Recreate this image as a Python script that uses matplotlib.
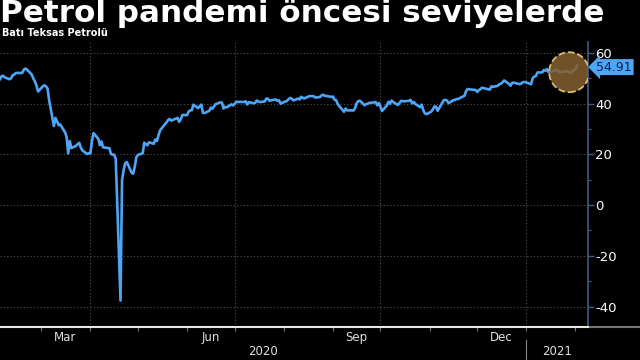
"""WTI crude price chart: back at pre-pandemic levels."""

import matplotlib
matplotlib.use("Agg")
import matplotlib.pyplot as plt
import matplotlib.transforms as mtransforms
from matplotlib.lines import Line2D
import pandas as pd

plt.rcParams["axes.unicode_minus"] = False

TITLE = "Petrol pandemi öncesi seviyelerde"
SUBTITLE = "Batı Teksas Petrolü"

dates = [
    "2020-02-04", "2020-02-05", "2020-02-06", "2020-02-07", "2020-02-10", "2020-02-11",
    "2020-02-12", "2020-02-13", "2020-02-14", "2020-02-18", "2020-02-19", "2020-02-20",
    "2020-02-21", "2020-02-24", "2020-02-25", "2020-02-26", "2020-02-27", "2020-02-28",
    "2020-03-02", "2020-03-03", "2020-03-04", "2020-03-05", "2020-03-06", "2020-03-09",
    "2020-03-10", "2020-03-11", "2020-03-12", "2020-03-13", "2020-03-16", "2020-03-17",
    "2020-03-18", "2020-03-19", "2020-03-20", "2020-03-23", "2020-03-24", "2020-03-25",
    "2020-03-26", "2020-03-27", "2020-03-30", "2020-03-31", "2020-04-01", "2020-04-02",
    "2020-04-03", "2020-04-06", "2020-04-07", "2020-04-08", "2020-04-09", "2020-04-13",
    "2020-04-14", "2020-04-15", "2020-04-16", "2020-04-17", "2020-04-20", "2020-04-21",
    "2020-04-22", "2020-04-23", "2020-04-24", "2020-04-27", "2020-04-28", "2020-04-29",
    "2020-04-30", "2020-05-01", "2020-05-04", "2020-05-05", "2020-05-06", "2020-05-07",
    "2020-05-08", "2020-05-11", "2020-05-12", "2020-05-13", "2020-05-14", "2020-05-15",
    "2020-05-18", "2020-05-19", "2020-05-20", "2020-05-21", "2020-05-22", "2020-05-26",
    "2020-05-27", "2020-05-28", "2020-05-29", "2020-06-01", "2020-06-02", "2020-06-03",
    "2020-06-04", "2020-06-05", "2020-06-08", "2020-06-09", "2020-06-10", "2020-06-11",
    "2020-06-12", "2020-06-15", "2020-06-16", "2020-06-17", "2020-06-18", "2020-06-19",
    "2020-06-22", "2020-06-23", "2020-06-24", "2020-06-25", "2020-06-26", "2020-06-29",
    "2020-06-30", "2020-07-01", "2020-07-02", "2020-07-06", "2020-07-07", "2020-07-08",
    "2020-07-09", "2020-07-10", "2020-07-13", "2020-07-14", "2020-07-15", "2020-07-16",
    "2020-07-17", "2020-07-20", "2020-07-21", "2020-07-22", "2020-07-23", "2020-07-24",
    "2020-07-27", "2020-07-28", "2020-07-29", "2020-07-30", "2020-07-31", "2020-08-03",
    "2020-08-04", "2020-08-05", "2020-08-06", "2020-08-07", "2020-08-10", "2020-08-11",
    "2020-08-12", "2020-08-13", "2020-08-14", "2020-08-17", "2020-08-18", "2020-08-19",
    "2020-08-20", "2020-08-21", "2020-08-24", "2020-08-25", "2020-08-26", "2020-08-27",
    "2020-08-28", "2020-08-31", "2020-09-01", "2020-09-02", "2020-09-03", "2020-09-04",
    "2020-09-08", "2020-09-09", "2020-09-10", "2020-09-11", "2020-09-14", "2020-09-15",
    "2020-09-16", "2020-09-17", "2020-09-18", "2020-09-21", "2020-09-22", "2020-09-23",
    "2020-09-24", "2020-09-25", "2020-09-28", "2020-09-29", "2020-09-30", "2020-10-01",
    "2020-10-02", "2020-10-05", "2020-10-06", "2020-10-07", "2020-10-08", "2020-10-09",
    "2020-10-12", "2020-10-13", "2020-10-14", "2020-10-15", "2020-10-16", "2020-10-19",
    "2020-10-20", "2020-10-21", "2020-10-22", "2020-10-23", "2020-10-26", "2020-10-27",
    "2020-10-28", "2020-10-29", "2020-10-30", "2020-11-02", "2020-11-03", "2020-11-04",
    "2020-11-05", "2020-11-06", "2020-11-09", "2020-11-10", "2020-11-11", "2020-11-12",
    "2020-11-13", "2020-11-16", "2020-11-17", "2020-11-18", "2020-11-19", "2020-11-20",
    "2020-11-23", "2020-11-24", "2020-11-25", "2020-11-27", "2020-11-30", "2020-12-01",
    "2020-12-02", "2020-12-03", "2020-12-04", "2020-12-07", "2020-12-08", "2020-12-09",
    "2020-12-10", "2020-12-11", "2020-12-14", "2020-12-15", "2020-12-16", "2020-12-17",
    "2020-12-18", "2020-12-21", "2020-12-22", "2020-12-23", "2020-12-24", "2020-12-28",
    "2020-12-29", "2020-12-30", "2020-12-31", "2021-01-04", "2021-01-05", "2021-01-06",
    "2021-01-07", "2021-01-08", "2021-01-11", "2021-01-12", "2021-01-13", "2021-01-14",
    "2021-01-15", "2021-01-19", "2021-01-20", "2021-01-21", "2021-01-22", "2021-01-25",
    "2021-01-26", "2021-01-27", "2021-01-28", "2021-01-29", "2021-02-01", "2021-02-02",
]

prices = [
    49.61, 50.75, 50.95, 50.32, 49.57, 49.94,
    51.17, 51.42, 52.05, 52.05, 53.29, 53.78,
    53.38, 51.43, 49.90, 48.73, 47.09, 44.76,
    46.75, 47.18, 46.78, 45.90, 41.28, 31.13,
    34.36, 32.98, 31.50, 31.73, 28.70, 26.95,
    20.37, 25.22, 22.43, 23.36, 24.01, 24.49,
    22.60, 21.51, 20.09, 20.48, 20.31, 25.32,
    28.34, 26.08, 23.63, 25.09, 22.76, 22.41,
    20.11, 19.87, 19.87, 18.27, -37.63, 10.01,
    13.78, 16.50, 16.94, 12.78, 12.34, 15.06,
    18.84, 19.78, 20.39, 24.56, 23.99, 23.55,
    24.74, 24.14, 25.78, 25.29, 27.56, 29.43,
    31.82, 32.50, 33.49, 33.92, 33.25, 34.35,
    32.81, 33.71, 35.49, 35.44, 36.81, 37.29,
    37.41, 39.55, 38.19, 38.94, 39.60, 36.34,
    36.26, 37.12, 38.38, 37.96, 38.84, 39.75,
    40.46, 40.37, 38.01, 38.72, 38.49, 39.70,
    39.27, 39.82, 40.65, 40.63, 40.62, 40.90,
    39.62, 40.55, 40.10, 40.29, 41.20, 40.75,
    40.59, 40.81, 41.96, 41.90, 41.07, 41.29,
    41.60, 41.04, 41.27, 39.92, 40.27, 41.01,
    41.70, 42.19, 41.95, 41.22, 41.94, 41.61,
    42.67, 42.24, 42.01, 42.89, 42.89, 42.93,
    42.82, 42.34, 42.62, 43.35, 43.39, 43.04,
    42.97, 42.61, 42.76, 41.51, 41.37, 39.77,
    36.76, 38.05, 37.30, 37.33, 37.26, 38.28,
    40.16, 40.97, 41.11, 39.31, 39.80, 39.93,
    40.31, 40.25, 40.60, 39.29, 40.22, 38.72,
    37.05, 39.22, 40.67, 39.95, 41.19, 40.60,
    39.43, 40.20, 41.04, 40.96, 40.88, 41.06,
    41.46, 40.03, 40.64, 39.85, 38.56, 39.57,
    37.39, 36.17, 35.79, 36.81, 37.66, 38.79,
    38.79, 37.14, 40.29, 41.36, 41.45, 41.12,
    40.13, 41.34, 41.43, 41.82, 41.74, 42.15,
    43.06, 44.91, 45.71, 45.53, 45.34, 44.55,
    45.28, 45.64, 46.26, 45.76, 45.60, 45.52,
    46.78, 46.57, 46.99, 47.62, 47.82, 48.36,
    49.10, 47.74, 47.02, 48.12, 48.23, 47.62,
    48.00, 48.40, 48.52, 47.62, 49.93, 50.63,
    50.83, 52.24, 52.25, 53.21, 52.91, 53.57,
    52.36, 52.98, 53.24, 53.13, 52.27, 52.77,
    52.61, 52.85, 52.34, 52.20, 53.55, 54.91,
]

y_ticks = [-40, -20, 0, 20, 40, 60]
month_labels = {3: "Mar", 6: "Jun", 9: "Sep", 12: "Dec"}
x_start, x_end = "2020-02-04", "2021-02-09"

LINE_BLUE = "#4ea5f5"
GRID = "#505050"
AXIS_BLUE = "#3b5c8c"

x = pd.to_datetime(dates)
x0, x1 = pd.Timestamp(x_start), pd.Timestamp(x_end)

fig = plt.figure(figsize=(6.4, 3.6), dpi=100, facecolor="black")
ax = fig.add_axes([0.0, 0.092, 0.919, 0.791], facecolor="black")

ax.plot(x, prices, color=LINE_BLUE, linewidth=1.9, solid_joinstyle="round", zorder=3)

# highlight around the latest prints
ax.scatter([x[-4]], [prices[-4]], s=830, facecolor="#86602f", alpha=0.85,
           edgecolor="#f3d58c", linewidths=1.3, linestyles="--", zorder=4)

ax.set_xlim(x0, x1)
ax.set_ylim(-48, 64.2)

# y axis on the right
ax.yaxis.tick_right()
ax.set_yticks(y_ticks)
ax.set_yticks(range(-40, 61, 10), minor=True)
ax.tick_params(axis="y", which="major", colors=AXIS_BLUE, length=4, width=1,
               labelcolor="white", labelsize=9.5, pad=1)
ax.tick_params(axis="y", which="minor", colors=AXIS_BLUE, length=2, width=0.8)
for side in ("top", "left"):
    ax.spines[side].set_visible(False)
ax.spines["right"].set_color(AXIS_BLUE)
ax.spines["right"].set_linewidth(1.2)
ax.spines["bottom"].set_color("#e8e8e8")
ax.spines["bottom"].set_linewidth(1.5)

# x axis: month ticks, quarter labels mid-month
month_starts = pd.date_range("2020-03-01", x1, freq="MS")
ax.set_xticks(month_starts)
ax.set_xticklabels([])
mid_months = [pd.Timestamp(2020, m, 16) for m in month_labels]
ax.set_xticks(mid_months, minor=True)
ax.set_xticklabels(list(month_labels.values()), minor=True)
ax.tick_params(axis="x", which="major", colors="#777777", length=3, width=0.8)
ax.tick_params(axis="x", which="minor", length=0, labelcolor="#e0e0e0",
               labelsize=8.5, pad=3)

# gridlines
for v in y_ticks:
    ax.axhline(v, color=GRID, linestyle=(0, (1, 2)), linewidth=0.8, zorder=1)
for q in pd.date_range("2020-04-01", x1, freq="QS"):
    ax.axvline(q, color=GRID, linestyle=(0, (1, 2)), linewidth=0.8, zorder=1)

# year labels
trans = mtransforms.blended_transform_factory(ax.transData, ax.transAxes)
year_break = pd.Timestamp("2021-01-01")
for lo, hi, label in [(x0, year_break, "2020"), (year_break, x1, "2021")]:
    ax.text(lo + (hi - lo) / 2, -0.088, label, transform=trans, color="#e0e0e0",
            fontsize=8.5, ha="center", va="center")
ax.plot([year_break, year_break], [-0.045, -0.12], transform=trans, color="#888888",
        linewidth=0.8, clip_on=False)
fig.add_artist(Line2D([0.922, 1.0], [0.092, 0.092], color="#777777", linewidth=1.5))

# last value tag
ax.annotate(f"{prices[-1]:.2f}", xy=(1.0, prices[-1]),
            xycoords=("axes fraction", "data"), xytext=(6, -1),
            textcoords="offset points", va="center", ha="left",
            fontsize=9, color="#08204a",
            bbox=dict(boxstyle="larrow,pad=0.12", fc=LINE_BLUE, ec="none"))

fig.text(0.0, 0.94, TITLE, color="white", fontsize=22.3, fontweight="bold",
         ha="left", va="baseline")
fig.text(0.003, 0.907, SUBTITLE, color="white", fontsize=7, fontweight="bold",
         ha="left", va="center")

fig.savefig("out.png", dpi=100, facecolor="black")
